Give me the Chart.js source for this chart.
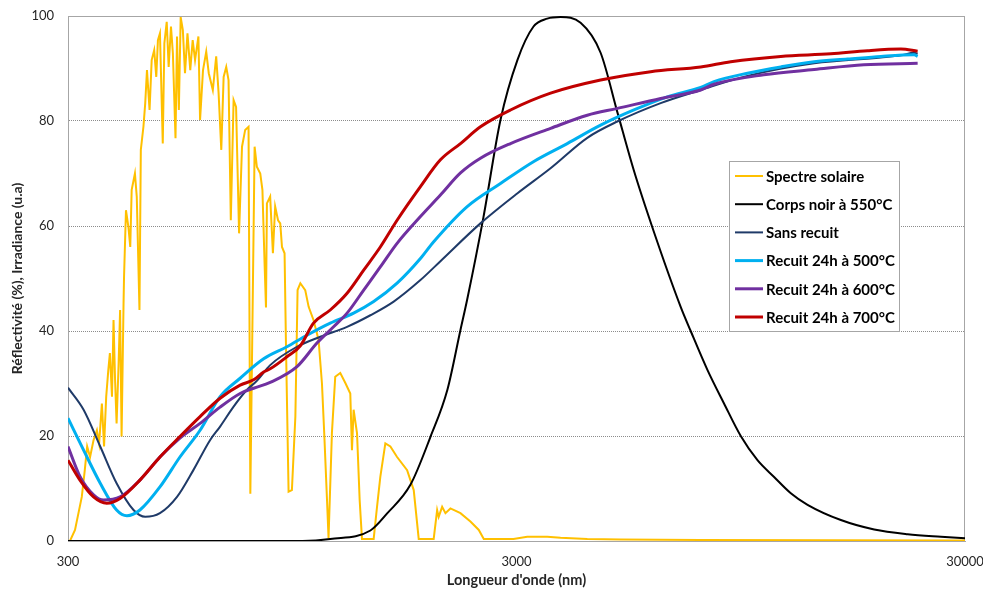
<!DOCTYPE html>
<html lang="fr">
<head>
<meta charset="UTF-8">
<title>Réflectivité et spectre solaire</title>
<script src="https://cdn.jsdelivr.net/npm/chart.js"></script>
<style>
    body { margin: 0; background: #fff; }
    #wrap { width: 983px; height: 591px; }
</style>
</head>
<body>
<div id="wrap"><canvas id="myChart" width="983" height="591"></canvas></div>
<script>
    // Spectre solaire (longueur d'onde en nm, irradiance normalisée)
    const wlSolaire = [300, 303, 311, 322, 327, 331, 336, 342, 348, 352, 357, 361, 365, 369, 372, 376, 379, 382, 385, 389,
        392, 395, 399, 400, 404, 409, 413, 416, 423, 427, 433, 436, 442, 446, 450, 456, 461, 467, 472, 476,
        481, 488, 492, 498, 503, 509, 514, 521, 525, 530, 535, 541, 547, 554, 562, 569, 576, 586, 591, 600,
        610, 618, 631, 642, 650, 659, 667, 676, 684, 692, 702, 711, 722, 733, 745, 758, 765, 782, 791, 805,
        814, 823, 829, 833, 847, 859, 869, 882, 892, 900, 912, 919, 931, 947, 964, 975, 989, 1014, 1032, 1058,
        1086, 1105, 1118, 1134, 1143, 1163, 1183, 1214, 1246, 1278, 1289, 1300, 1323, 1341, 1357, 1441, 1466, 1491, 1530, 1570,
        1625, 1711, 1770, 1816, 1961, 1996, 2012, 2048, 2083, 2137, 2250, 2368, 2472, 2536, 2954, 3170, 3513, 3761, 4315, 5121,
        7724, 30000];
    const solaire = [0, 0, 2.1, 8.4, 13.5, 18, 16, 19.2, 21.1, 18.6, 26.2, 18, 27.5, 32.6, 35.8, 27.5, 42.1, 30.7, 22.4, 33.8,
        44, 19.9, 45.3, 50.3, 63, 59.9, 56, 66.9, 70, 65.6, 44, 74.5, 79, 83.4, 89.7, 82.1, 91.6, 93.5, 88.4, 95.4,
        96.7, 75.7, 94.8, 98.9, 90.3, 98, 92.9, 76.7, 96.1, 82.1, 99.8, 97.3, 89.1, 96.7, 89.7, 95.4, 91.6, 96.1, 80.2, 89.7,
        93.2, 89.1, 85.9, 92.3, 85.3, 74.5, 88.4, 90.3, 87.8, 61.1, 84, 82.7, 58.6, 75.1, 78.3, 78.9, 9, 75.1, 71.3, 70,
        66.9, 52.9, 44.5, 64.3, 65.6, 54.8, 63.7, 61.1, 60.5, 56, 54.8, 36.4, 9.4, 9.7, 23.7, 47.8, 49.1, 47.8, 44.6, 42.1,
        38.3, 30, 20.5, 7.8, 0.6, 20.6, 31.3, 32, 30.1, 28.1, 17.3, 25, 20.5, 7.8, 0.4, 0.4, 6.5, 12.2, 18.6, 18,
        16, 13.5, 9.7, 0.4, 0.4, 5.9, 4.6, 6.5, 5.3, 6.2, 5.3, 3.7, 2.1, 0.4, 0.4, 0.8, 0.8, 0.6, 0.4, 0.3,
        0.2, 0.1];

    // Corps noir à 550°C
    const wlCorpsNoir = [300, 1000, 1153, 1417, 1546, 1740, 1928, 2104, 2250, 2329, 2532, 2763, 3014, 3274, 3513, 3761, 4169, 4620, 5042, 5474,
        6067, 6969, 7337, 7994, 8706, 9487, 10337, 11258, 12267, 13368, 15861, 18823, 22348, 26522, 30000];
    const corpsNoir = [0, 0, 0.4, 2, 5.3, 10.7, 19.8, 28.8, 40.2, 46, 61.7, 80.2, 91.6, 98, 99.5, 99.8, 98.7, 93, 81.5, 70.7,
        59, 44.6, 40, 32.6, 26.2, 20, 15.4, 12.2, 9.1, 6.9, 4, 2.2, 1.3, 0.8, 0.5];

    // Sans recuit
    const wlSans = [300, 325, 354, 385, 420, 446, 481, 525, 571, 622, 655, 702, 752, 791, 847, 972, 1096, 1257, 1417, 1597,
        1832, 2030, 2493, 3011, 3573, 4315, 5035, 6289, 7724, 9820, 13830, 19482, 21591, 23119, 23526];
    const sansRecuit = [29.2, 25, 18, 11, 5.9, 4.6, 5.3, 8.4, 13.5, 19.2, 21.8, 25.6, 28.8, 30.5, 33.5, 37, 38.9, 40.8, 43, 45.6,
        49.7, 53.3, 60.5, 66.2, 71, 76.8, 79.9, 83.4, 85.9, 88.6, 91, 92.1, 92.5, 93, 92.8];

    // Recuit 24h à 500°C
    const wl500 = [300, 325, 354, 385, 406, 434, 481, 533, 591, 655, 726, 819, 923, 1023, 1153, 1300, 1441, 1625, 1832, 1961,
        2329, 2763, 3279, 3893, 4620, 5482, 6509, 7724, 8270, 9820, 11652, 13830, 16416, 19482, 23119, 23526];
    const recuit500 = [23.4, 17.3, 11, 5.9, 4.8, 5.9, 10.3, 16, 21.1, 27.5, 31, 34.7, 37, 39.2, 41.5, 43.4, 45.6, 49.1, 53.8, 57,
        63.7, 68.1, 72.3, 75.7, 79.2, 82.1, 84.6, 86.4, 87.5, 89.1, 90.3, 91.3, 91.8, 92.3, 92.6, 92.3];

    // Recuit 24h à 600°C
    const wl600 = [300, 319, 342, 360, 392, 434, 481, 533, 591, 655, 726, 778, 847, 972, 1077, 1173, 1257, 1369, 1491, 1625,
        1832, 2030, 2250, 2493, 2909, 3573, 4315, 5035, 6289, 7724, 8270, 10676, 13830, 17852, 23526];
    const recuit600 = [18, 12.3, 8.8, 7.8, 8.4, 11.6, 16, 19.6, 22.4, 25.5, 28.1, 29.1, 30.2, 33.2, 37.7, 40.8, 43.4, 47.8, 52.2, 56.7,
        61.8, 65.9, 70.1, 72.9, 75.7, 78.6, 81.1, 82.4, 84.3, 85.9, 87, 88.8, 89.8, 90.7, 91];

    // Recuit 24h à 700°C
    const wl700 = [300, 319, 342, 366, 392, 434, 481, 533, 591, 655, 726, 778, 819, 847, 923, 989, 1058, 1153, 1257, 1369,
        1491, 1625, 1832, 2030, 2250, 2493, 2909, 3573, 4620, 5974, 7724, 9012, 11652, 15066, 18195, 21591, 23526];
    const recuit700 = [15.4, 11.6, 8.4, 7.2, 8.1, 11.6, 16, 19.9, 23.7, 27.2, 29.7, 30.7, 32.2, 32.8, 35.1, 37.2, 41.5, 44, 47.2, 51.6,
        56, 61.1, 67.5, 72.6, 75.7, 78.9, 82.1, 85.3, 87.8, 89.4, 90.3, 91.3, 92.3, 92.8, 93.4, 93.7, 93.3];

    const xTicks = [300, 3000, 30000];
    const yTicks = [0, 20, 40, 60, 80, 100];

    function pts(xs, ys) {
        return xs.map((x, i) => ({x: x, y: ys[i]}));
    }

    const series = [
        {label: 'Spectre solaire', data: pts(wlSolaire, solaire), color: '#FFC000', width: 2, tension: 0},
        {label: 'Corps noir à 550°C', data: pts(wlCorpsNoir, corpsNoir), color: '#000000', width: 2, tension: 0.4},
        {label: 'Sans recuit', data: pts(wlSans, sansRecuit), color: '#1F3A68', width: 2, tension: 0.4},
        {label: 'Recuit 24h à 500°C', data: pts(wl500, recuit500), color: '#00B0F0', width: 3, tension: 0.4},
        {label: 'Recuit 24h à 600°C', data: pts(wl600, recuit600), color: '#7030A0', width: 3, tension: 0.4},
        {label: 'Recuit 24h à 700°C', data: pts(wl700, recuit700), color: '#C00000', width: 3, tension: 0.4}
    ];

    // cadre gris autour de la zone de tracé
    const framePlugin = {
        id: 'frame',
        beforeDatasetsDraw(chart) {
            const a = chart.chartArea;
            const ctx = chart.ctx;
            ctx.save();
            ctx.strokeStyle = '#a6a6a6';
            ctx.lineWidth = 1;
            ctx.strokeRect(a.left + 0.5, a.top + 0.5, a.right - a.left - 1, a.bottom - a.top);
            ctx.restore();
        }
    };

    // légende dans un cadre à l'intérieur du graphique
    const legendBox = {
        id: 'legendBox',
        afterDraw(chart) {
            const ctx = chart.ctx;
            const x0 = 729.5, y0 = 161.5, w = 170, h = 170;
            ctx.save();
            ctx.fillStyle = '#ffffff';
            ctx.fillRect(x0, y0, w, h);
            ctx.strokeStyle = '#a6a6a6';
            ctx.lineWidth = 1;
            ctx.strokeRect(x0, y0, w, h);
            ctx.font = 'bold 15px Lato';
            ctx.textBaseline = 'middle';
            ctx.textAlign = 'left';
            series.forEach((s, i) => {
                const y = 176 + i * 28.2;
                ctx.strokeStyle = s.color;
                ctx.lineWidth = s.width;
                ctx.beginPath();
                ctx.moveTo(735, y);
                ctx.lineTo(763, y);
                ctx.stroke();
                ctx.fillStyle = '#000000';
                ctx.fillText(s.label, 766, y + 1);
            });
            ctx.restore();
        }
    };

    const ctx = document.getElementById('myChart').getContext('2d');
    const myChart = new Chart(ctx, {
        type: 'line',
        data: {
            datasets: series.map((s, i) => ({
                label: s.label,
                data: s.data,
                borderColor: s.color,
                backgroundColor: s.color,
                borderWidth: s.width,
                pointRadius: 0,
                fill: false,
                tension: s.tension,
                cubicInterpolationMode: s.tension ? 'monotone' : 'default',
                order: series.length - i
            }))
        },
        options: {
            responsive: false,
            animation: false,
            layout: {padding: {left: 0, top: 16, right: 18, bottom: 0}},
            plugins: {
                legend: {display: false},
                tooltip: {enabled: false}
            },
            scales: {
                x: {
                    type: 'logarithmic',
                    min: 300,
                    max: 30000,
                    afterBuildTicks: scale => { scale.ticks = xTicks.map(v => ({value: v})); },
                    afterFit: scale => {
                        scale.height = 50;
                        scale.paddingLeft = 0;
                        scale.paddingRight = 0;
                    },
                    grid: {display: false, drawTicks: false},
                    border: {color: '#a6a6a6', width: 1},
                    ticks: {
                        autoSkip: false,
                        maxRotation: 0,
                        padding: 13,
                        color: '#262626',
                        font: {family: 'Lato', size: 13},
                        callback: v => String(v)
                    },
                    title: {
                        display: true,
                        text: "Longueur d'onde (nm)",
                        color: '#262626',
                        font: {family: 'Lato', size: 14.5, weight: 'bold'},
                        padding: {top: 0, bottom: 2}
                    }
                },
                y: {
                    min: 0,
                    max: 100,
                    afterBuildTicks: scale => { scale.ticks = yTicks.map(v => ({value: v})); },
                    afterFit: scale => {
                        scale.width = 68;
                        scale.paddingTop = 0;
                        scale.paddingBottom = 0;
                    },
                    grid: {color: '#8c8c8c', drawTicks: false, lineWidth: 1},
                    border: {color: '#a6a6a6', width: 1, dash: [1, 1]},
                    ticks: {
                        padding: 14,
                        color: '#262626',
                        font: {family: 'Lato', size: 13}
                    },
                    title: {
                        display: true,
                        text: 'Réflectivité (%), Irradiance (u.a)',
                        color: '#262626',
                        font: {family: 'Lato', size: 14, weight: 'bold'},
                        padding: {top: 9, bottom: 0}
                    }
                }
            }
        },
        plugins: [framePlugin, legendBox]
    });
</script>
</body>
</html>
